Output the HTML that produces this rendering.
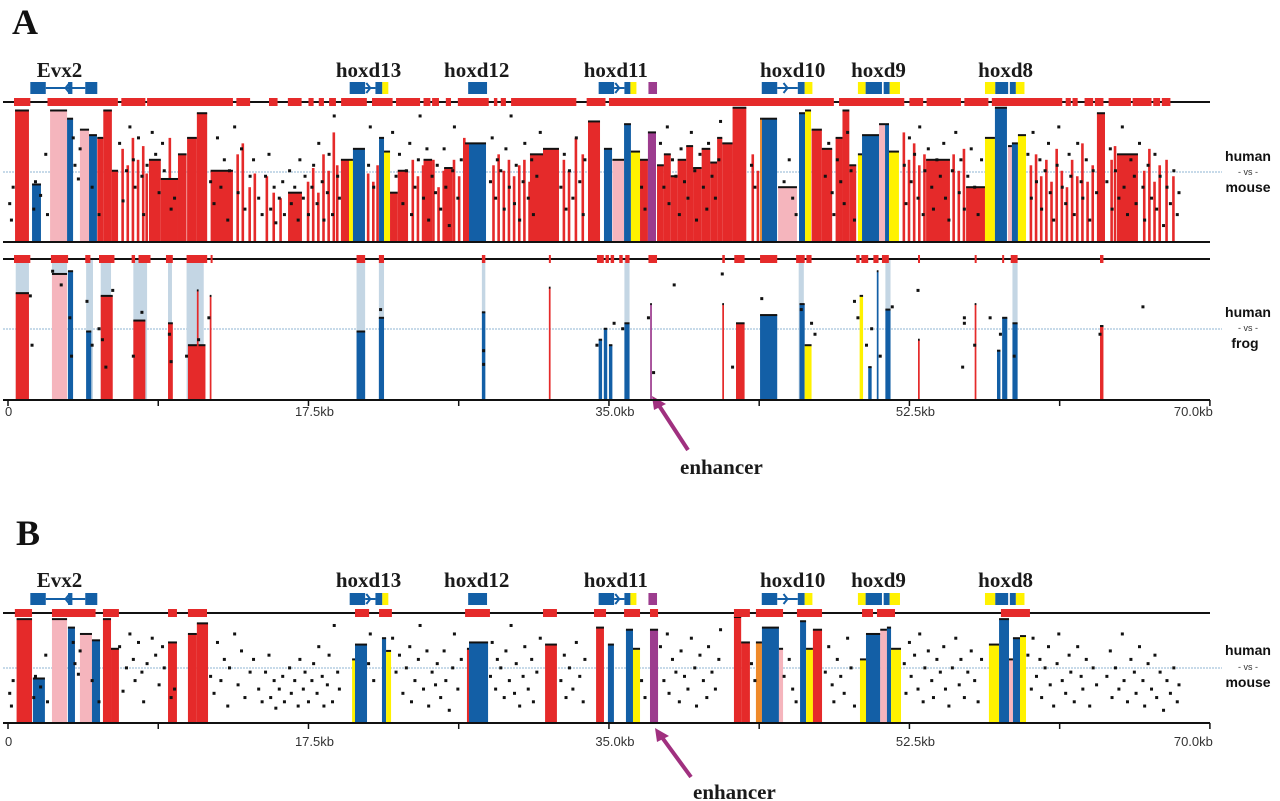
<!DOCTYPE html>
<html><head><meta charset="utf-8">
<style>
html,body{margin:0;padding:0;background:#fff;}
svg{display:block;}
.gl{font-family:"Liberation Serif",serif;font-weight:bold;font-size:21px;fill:#1a1a1a;}
.ax{font-family:"Liberation Sans",sans-serif;font-size:13px;fill:#333;}
.rl{font-family:"Liberation Sans",sans-serif;font-weight:bold;font-size:14px;fill:#111;}
.vs{font-family:"Liberation Sans",sans-serif;font-size:9px;fill:#333;}
</style></head>
<body>
<svg id="fig" width="1280" height="801" viewBox="0 0 1280 801" xmlns="http://www.w3.org/2000/svg">
<text x="12" y="34" font-family="Liberation Serif,serif" font-weight="bold" font-size="36" fill="#111">A</text>
<text x="16" y="545" font-family="Liberation Serif,serif" font-weight="bold" font-size="36" fill="#111">B</text>
<g>
<text class="rl" x="1248" y="161" text-anchor="middle">human</text>
<text class="vs" x="1248" y="175" text-anchor="middle">- vs -</text>
<text class="rl" x="1248" y="192" text-anchor="middle">mouse</text></g>
<g>
<text class="rl" x="1248" y="317" text-anchor="middle">human</text>
<text class="vs" x="1248" y="331" text-anchor="middle">- vs -</text>
<text class="rl" x="1245" y="348" text-anchor="middle">frog</text></g>
<g>
<text class="rl" x="1248" y="655" text-anchor="middle">human</text>
<text class="vs" x="1248" y="670" text-anchor="middle">- vs -</text>
<text class="rl" x="1248" y="687" text-anchor="middle">mouse</text></g>
<g>
<line x1="688" y1="450" x2="658" y2="404" stroke="#a0307f" stroke-width="4"/>
<polygon points="652,396 666,404 654,410" fill="#a0307f"/>
<text class="gl" x="680" y="474" font-size="22">enhancer</text></g>
<g>
<line x1="691" y1="777" x2="661" y2="736" stroke="#a0307f" stroke-width="4"/>
<polygon points="655,728 669,736 657,742" fill="#a0307f"/>
<text class="gl" x="693" y="799" font-size="22">enhancer</text></g>
</svg>
<script>
// ---- data (kb / percent identity) ----
const tickLabels = ["0","17.5kb","35.0kb","52.5kb","70.0kb"];
const tickKb = [0,8.75,17.5,26.25,35,43.75,52.5,61.25,70];
const geneNames = ["Evx2","hoxd13","hoxd12","hoxd11","hoxd10","hoxd9","hoxd8"];
const geneLabelKb = [3.0,21.0,27.3,35.4,45.7,50.7,58.1];
// gene boxes [startKb,endKb,colour]
const geneBoxes = [[1.3,2.2,"b"],[3.5,3.75,"b"],[4.5,5.2,"b"],[19.9,20.8,"b"],[21.4,21.8,"b"],[21.8,22.15,"y"],[26.8,27.9,"b"],[34.4,35.3,"b"],[35.9,36.25,"b"],[36.25,36.6,"y"],[37.3,37.8,"m"],[43.9,44.8,"b"],[46.0,46.4,"b"],[46.4,46.85,"y"],[49.5,49.95,"y"],[49.95,50.9,"b"],[51.0,51.35,"b"],[51.35,51.95,"y"],[56.9,57.5,"y"],[57.5,58.25,"b"],[58.35,58.7,"b"],[58.7,59.2,"y"]];
const geneIntrons = [[2.2,4.5,"left"],[20.8,21.4,"right"],[35.3,35.9,"right"],[44.8,46.0,"right"]];

const peaksAMouse = [[0.41,1.22,98,"r"],[1.40,1.92,71,"b"],[2.45,3.44,98,"p"],[3.44,3.79,95,"b"],[4.19,4.72,91,"p"],[4.72,5.18,89,"b"],[5.20,5.55,88,"r"],[5.55,6.05,98,"r"],[6.05,6.41,76,"r"],
[8.21,8.9,80,"r"],[8.9,9.9,73,"r"],[9.9,10.4,82,"r"],[10.43,11.0,88,"r"],[11.0,11.6,97,"r"],[11.8,13.1,76,"r"],[16.31,17.12,68,"r"],[19.39,19.86,80,"r"],[19.86,20.09,80,"y"],[20.09,20.79,84,"b"],
[21.61,21.90,88,"b"],[21.90,22.25,83,"y"],[22.25,22.7,68,"r"],[22.7,23.3,76,"r"],[24.2,24.7,80,"r"],[25.4,25.9,77,"r"],[26.62,26.85,86,"r"],[26.85,27.84,86,"b"],[30.4,31.2,82,"r"],[31.16,32.09,84,"r"],[33.78,34.48,94,"r"],[34.71,35.18,84,"b"],[35.2,35.88,80,"p"],
[35.88,36.28,93,"b"],[36.28,36.81,83,"y"],[36.81,37.27,80,"r"],[37.27,37.74,90,"m"],[37.8,38.2,78,"r"],[38.2,38.6,82,"r"],[38.6,39.0,74,"r"],[39.0,39.5,80,"r"],[39.5,39.9,85,"r"],[39.9,40.4,77,"r"],
[40.4,40.9,84,"r"],[40.9,41.3,79,"r"],[41.3,41.6,88,"r"],[41.6,42.2,86,"r"],[42.2,43.0,99,"r"],[43.80,43.91,95,"o"],[43.91,44.79,95,"b"],[44.85,45.95,70,"p"],[46.07,46.42,97,"b"],[46.42,46.77,98,"y"],
[46.8,47.4,91,"r"],[47.4,48.0,84,"r"],[48.2,48.6,88,"r"],[48.6,49.0,98,"r"],[49.0,49.4,78,"r"],[49.50,49.74,82,"y"],[49.74,50.73,89,"b"],[50.73,51.08,93,"p"],[51.08,51.31,93,"b"],[51.31,51.89,83,"y"],
[53.47,54.86,80,"r"],[55.80,56.90,70,"r"],[56.90,57.48,88,"y"],[57.48,58.18,99,"b"],[58.24,58.47,85,"p"],[58.47,58.82,86,"b"],[58.82,59.29,89,"y"],[63.42,63.89,97,"r"],[64.59,65.81,82,"r"]];
// thin red lines [kb,pct]
const linesAMouse = [[6.6,84],[6.9,78],[7.2,88],[7.5,80],[7.8,85],[8.0,75],[9.35,88],[13.3,82],[13.6,86],[14.0,70],[14.3,75],[15.0,74],[15.4,68],[15.8,66],[17.4,72],[17.7,77],[18.0,68],[18.3,82],[18.6,76],[18.9,90],[19.1,78],
[20.9,75],[21.2,72],[21.45,78],[23.5,80],[23.8,74],[24.1,78],[24.4,72],[24.7,80],[25.0,70],[25.3,76],[25.6,68],[25.9,80],[26.2,74],[26.5,88],[28.2,78],[28.5,82],[28.8,76],[29.1,80],[29.4,74],[29.7,78],[30.0,80],[30.3,72],[30.6,76],[30.9,80],
[32.3,80],[32.6,76],[33.0,88],[33.4,82],[43.3,82],[43.6,76],[52.1,90],[52.4,80],[52.7,86],[53.0,78],[53.3,82],[55.0,82],[55.3,76],[55.6,84],[59.5,78],[59.8,82],[60.1,74],[60.4,80],[60.7,72],[61.0,84],[61.3,76],[61.6,70],[61.9,80],[62.2,74],[62.5,86],[62.8,72],[63.1,78],[64.2,80],[64.4,85],[66.1,76],[66.4,84],[66.7,72],[67.0,78],[67.4,80],[67.8,74]];
const barsAMouse = [[0.35,1.3],[2.3,6.4],[6.6,8.0],[8.1,13.1],[13.3,14.1],[15.2,15.7],[16.3,17.1],[17.5,17.8],[18.1,18.4],[18.7,19.1],[19.4,20.9],[21.2,22.4],[22.6,24.0],[24.2,24.6],[24.7,25.1],[25.5,25.8],[26.2,28.0],[28.3,28.5],[28.7,29.0],[29.3,33.1],[33.7,34.8],[35.0,48.1],[48.4,52.2],[52.5,53.3],[53.5,55.5],[55.7,57.1],[57.3,61.4],[61.6,61.9],[62.0,62.3],[62.7,63.2],[63.3,63.8],[64.1,65.4],[65.5,66.6],[66.7,67.1],[67.2,67.7]];

const peaksAFrog = [[0.45,1.22,89,"r"],[2.56,3.44,96,"p"],[3.49,3.79,97,"b"],[4.55,4.85,75,"b"],[5.4,6.1,88,"r"],[7.3,8.0,79,"r"],[9.32,9.6,78,"r"],[10.48,11.5,70,"r"],[11.0,11.1,90,"r"],[11.75,11.85,88,"r"],[20.3,20.8,75,"b"],[21.6,21.9,80,"b"],[27.6,27.8,82,"b"],[31.5,31.6,91,"r"],
[34.4,34.6,72,"b"],[34.7,34.9,76,"b"],[35.0,35.2,70,"b"],[35.9,36.2,78,"b"],[37.4,37.5,85,"m"],[41.6,41.7,85,"r"],[42.4,42.9,78,"r"],[43.8,44.8,81,"b"],[46.1,46.4,85,"b"],[46.4,46.8,70,"y"],[49.6,49.8,88,"y"],[50.1,50.3,62,"b"],[50.6,50.7,97,"b"],[51.1,51.4,83,"b"],[53.0,53.1,72,"r"],[56.3,56.4,85,"r"],[57.6,57.8,68,"b"],[57.9,58.2,80,"b"],[58.5,58.8,78,"b"],[63.6,63.8,77,"r"]];
const shadeAFrog = [[0.45,1.22],[2.56,3.44],[4.55,4.95],[5.4,6.0],[7.3,8.1],[9.32,9.55],[10.4,11.4],[20.3,20.8],[21.6,21.9],[27.6,27.8],[35.9,36.2],[46.05,46.35],[51.1,51.4],[58.5,58.8]];
const barsAFrog = [[0.35,1.3],[2.5,3.5],[4.5,4.8],[5.3,6.2],[7.2,7.4],[7.6,8.3],[9.2,9.6],[10.4,11.6],[11.8,11.9],[20.3,20.8],[21.6,21.9],[27.6,27.8],[31.5,31.6],[34.3,34.7],[34.8,35.0],[35.1,35.3],[35.6,35.8],[35.95,36.2],[37.3,37.8],[41.6,41.75],[42.3,42.9],[43.8,44.8],[45.9,46.4],[46.5,46.8],[49.4,49.6],[49.7,50.1],[50.4,50.7],[50.9,51.3],[53.0,53.1],[56.3,56.4],[57.9,58.0],[58.4,58.8],[63.6,63.8]];
const dotsAFrog = [[1.3,88],[1.4,70],[2.6,97],[3.1,92],[3.6,80],[3.7,66],[4.6,86],[4.9,70],[5.3,76],[5.5,72],[5.7,62],[6.1,90],[7.3,66],[7.8,82],[9.4,74],[9.5,64],[10.4,66],[11.1,72],[11.7,80],[21.7,83],[27.7,63],[27.7,68],[34.3,70],[35.3,78],[35.8,76],[37.3,80],[37.6,60],[41.6,96],[42.2,62],[43.9,87],[46.2,83],[46.8,78],[47.0,74],[49.3,86],[49.5,80],[50.0,70],[50.3,76],[50.8,66],[51.5,84],[53.0,90],[55.7,78],[55.7,80],[56.3,70],[57.2,80],[57.8,74],[58.6,66],[63.6,74],[66.1,84],[38.8,92],[55.6,62]];

const peaksB = [[0.5,1.4,99,"r"],[1.45,2.15,71,"b"],[2.56,3.44,99,"p"],[3.49,3.90,95,"b"],[4.19,4.89,92,"p"],[4.89,5.36,89,"b"],[5.53,6.0,99,"r"],[6.0,6.46,85,"r"],[9.32,9.84,88,"r"],[10.48,11.0,92,"r"],[11.0,11.65,97,"r"],
[20.04,20.21,80,"y"],[20.21,20.91,87,"b"],[21.78,22.02,90,"b"],[22.02,22.31,84,"y"],[26.73,26.85,85,"r"],[26.85,27.96,88,"b"],[31.28,31.97,87,"r"],[34.25,34.71,95,"r"],[34.94,35.29,87,"b"],[35.99,36.40,94,"b"],[36.40,36.81,85,"y"],[37.39,37.86,94,"m"],
[42.28,42.7,100,"r"],[42.7,43.21,88,"r"],[43.56,43.91,88,"o"],[43.91,44.90,95,"b"],[44.90,45.14,85,"p"],[46.13,46.48,98,"b"],[46.48,46.88,85,"y"],[46.88,47.41,94,"r"],[49.62,49.97,80,"y"],[49.97,50.8,92,"b"],[50.8,51.19,94,"p"],[51.19,51.43,95,"b"],[51.43,52.01,85,"y"],
[57.13,57.72,87,"y"],[57.72,58.30,99,"b"],[58.30,58.53,80,"p"],[58.53,58.94,90,"b"],[58.94,59.29,91,"y"]];
const barsB = [[0.4,1.4],[2.56,5.1],[5.53,6.46],[9.32,9.84],[10.48,11.59],[20.21,21.03],[21.61,22.36],[26.62,28.07],[31.16,31.97],[34.13,34.83],[35.88,36.81],[37.39,37.86],[42.28,43.21],[43.56,45.14],[45.95,47.41],[49.74,50.38],[50.61,51.66],[57.83,59.52]];
// human-mouse scatter points (same data in both mouse tracks)
const dotsMouse = [[0.1,64],[0.2,58],[0.3,70],[1.5,62],[1.6,72],[1.9,67],[2.2,82],[2.3,60],[3.8,88],[3.9,78],[4.1,73],[4.2,84],[4.9,70],[5.3,60],[6.5,86],[6.7,65],[6.9,76],[7.1,92],[7.3,80],[7.4,70],[7.6,88],[7.8,74],[7.9,60],[8.1,78],[8.4,90],[8.6,82],[8.8,68],[9.0,86],[9.1,76],[9.5,62],[9.7,66],
[11.8,72],[12.0,64],[12.2,88],[12.4,70],[12.6,80],[12.8,58],[12.9,76],[13.2,92],[13.4,68],[13.6,84],[13.8,62],[14.1,74],[14.3,80],[14.6,66],[14.8,60],[15.0,74],[15.2,82],[15.3,62],[15.5,70],[15.6,57],[15.8,66],[16.0,72],[16.1,60],[16.4,76],[16.5,64],[16.7,70],[16.9,58],[17.0,80],[17.2,66],[17.3,74],[17.5,60],[17.7,70],[17.8,78],[18.0,64],[18.1,86],[18.3,72],[18.4,58],[18.6,68],[18.7,82],[18.9,60],[19.0,96],[19.2,74],[19.3,66],
[21.0,78],[21.1,92],[21.3,70],[22.4,90],[22.6,74],[22.8,82],[23.0,64],[23.2,76],[23.4,86],[23.5,60],[23.7,70],[23.9,80],[24.0,96],[24.2,66],[24.4,84],[24.5,58],[24.7,74],[24.9,68],[25.0,78],[25.2,62],[25.4,84],[25.5,70],[25.7,56],[25.9,76],[26.0,92],[26.2,66],[26.4,80],
[28.1,72],[28.2,88],[28.4,66],[28.5,80],[28.7,76],[28.9,62],[29.0,84],[29.2,70],[29.3,96],[29.5,64],[29.6,78],[29.8,58],[30.0,72],[30.1,86],[30.3,66],[30.5,80],[30.6,60],[30.8,74],[31.0,90],[32.2,70],[32.4,82],[32.5,62],[32.7,76],[32.9,66],[33.1,88],[33.3,72],[33.5,60],[33.6,80],
[36.9,70],[37.1,62],[38.0,86],[38.2,70],[38.4,92],[38.5,64],[38.7,80],[38.9,74],[39.1,60],[39.2,84],[39.4,72],[39.6,66],[39.8,90],[40.0,76],[40.1,58],[40.3,82],[40.5,70],[40.7,62],[40.8,86],[41.0,74],[41.2,66],[41.4,80],[41.5,94],
[43.3,78],[43.5,70],[45.2,72],[45.5,80],[45.7,66],[45.9,60],[47.6,74],[47.8,86],[48.0,68],[48.1,60],[48.3,80],[48.5,72],[48.7,64],[48.9,90],[49.1,76],[49.3,58],
[52.2,78],[52.3,64],[52.5,88],[52.6,72],[52.8,82],[53.0,66],[53.1,92],[53.3,60],[53.4,76],[53.6,84],[53.8,70],[53.9,62],[54.1,80],[54.3,74],[54.5,86],[54.6,66],[54.8,58],[55.0,76],[55.2,90],[55.4,68],[55.5,80],[55.7,62],[55.9,74],[56.1,84],[56.3,70],[56.5,60],[56.7,80],
[59.4,82],[59.6,66],[59.7,90],[59.9,72],[60.1,80],[60.2,62],[60.4,76],[60.6,86],[60.7,68],[60.9,58],[61.1,78],[61.2,92],[61.4,70],[61.6,64],[61.8,82],[61.9,74],[62.1,60],[62.3,86],[62.5,72],[62.6,66],[62.8,80],[63.0,58],[63.2,76],[63.4,68],
[64.0,72],[64.2,84],[64.3,62],[64.5,76],[64.7,66],[64.9,92],[65.0,70],[65.2,60],[65.4,80],[65.6,74],[65.7,64],[65.9,86],[66.1,70],[66.2,58],[66.4,78],[66.6,66],[66.8,82],[66.9,62],[67.1,74],[67.3,56],[67.5,70],[67.7,64],[67.9,76],[68.1,60],[68.2,68]];

// ---- scales / layout ----
const X0 = 8, KBPX = 17.17;
function xs(kb){ return X0 + kb*KBPX; }
function ysFactory(base, top){ return function(p){ return base - (p-50)/50*(base-top); }; }
const COLORS = {r:"#e52a2a",b:"#135fa6",p:"#f5b5bd",y:"#fff200",m:"#9c3c8e",o:"#ef8a2a",l:"#c4d6e4"};
const NS = "http://www.w3.org/2000/svg";
const svg = document.getElementById('fig');
function mk(tag, attrs, parent){
  const e = document.createElementNS(NS, tag);
  for (const k in attrs) e.setAttribute(k, attrs[k]);
  (parent||svg).appendChild(e); return e;
}

function track(id, lineY, base, top, midY, peaks, lines, dots, bars, shade){
  const ys = ysFactory(base, top);
  const g = mk('g', {});
  
  
  const mid = mk('line', {x1:3, x2:1222, y1:midY, y2:midY, stroke:"#8fb6d3", 'stroke-width':1, 'stroke-dasharray':"2,1"}, g);
  
  
  if (shade) shade.forEach(s=>{
    const r = mk('rect', {x:xs(s[0]), y:lineY, width:Math.max(1,xs(s[1])-xs(s[0])), height:base-lineY, fill:COLORS.l}, g);
    
    
  });
  lines.forEach(l=>{
    const r = mk('rect', {x:xs(l[0]), y:ys(l[1]), width:2.6, height:base-ys(l[1]), fill:COLORS.r}, g);
    
    
  });
  peaks.forEach(p=>{
    const r = mk('rect', {x:xs(p[0]), y:ys(p[2]), width:Math.max(1.5,xs(p[1])-xs(p[0])), height:base-ys(p[2]), fill:COLORS[p[3]]}, g);
    
    
    const cap = mk('rect', {x:xs(p[0]), y:ys(p[2])-1, width:Math.max(1.5,xs(p[1])-xs(p[0])), height:2, fill:"#111"}, g);
    
    
  });
  dots.forEach(d=>{
    const r = mk('rect', {x:xs(d[0])-1.5, y:ys(d[1])-1.5, width:3, height:3, fill:"#111"}, g);
    
    
  });
  const tl = mk('line', {x1:3, x2:1210, y1:lineY, y2:lineY, stroke:"#111", 'stroke-width':2}, g);
  
  
  const bl = mk('line', {x1:3, x2:1210, y1:base, y2:base, stroke:"#111", 'stroke-width':2}, g);
  
  
  bars.forEach(b=>{
    const r = mk('rect', {x:xs(b[0]), y:lineY-4, width:Math.max(2,xs(b[1])-xs(b[0])), height:8, fill:COLORS.r}, g);
    
    
  });
}

function axis(id, base, labY){
  const g = mk('g', {});
  
  
  tickKb.forEach((k,i)=>{
    const t = mk('line', {x1:xs(k), x2:xs(k), y1:base, y2:base+6, stroke:"#111", 'stroke-width':1.5}, g);
    
    
  });
  tickLabels.forEach((s,i)=>{
    const k = i*17.5;
    let anchor = 'middle', x = xs(k)+6;
    if (i===0){ anchor='start'; x = xs(k)-3; }
    if (i===tickLabels.length-1){ anchor='end'; x = xs(k)+3; }
    const t = mk('text', {x:x, y:labY, 'text-anchor':anchor, class:'ax'}, g);
    t.textContent = s;
    
    
  });
}

function genes(id, labelY, boxY){
  const g = mk('g', {});
  
  
  geneIntrons.forEach(n=>{
    const l = mk('line', {x1:xs(n[0]), x2:xs(n[1]), y1:boxY+6, y2:boxY+6, stroke:COLORS.b, 'stroke-width':2}, g);
    
    
    const mx = (xs(n[0])+xs(n[1]))/2, d = n[2]==='left' ? -1 : 1;
    const a = mk('polyline', {points:(mx-4*d)+','+(boxY+1)+' '+mx+','+(boxY+6)+' '+(mx-4*d)+','+(boxY+11), fill:'none', stroke:COLORS.b, 'stroke-width':2}, g);
    
    
  });
  geneBoxes.forEach(b=>{
    const r = mk('rect', {x:xs(b[0]), y:boxY, width:xs(b[1])-xs(b[0]), height:12, fill:COLORS[b[2]]}, g);
    
    
  });
  geneNames.forEach((n,i)=>{
    const t = mk('text', {x:xs(geneLabelKb[i]), y:labelY, 'text-anchor':'middle', class:'gl'}, g);
    t.textContent = n;
    
    
  });
}

genes('genes-a', 77, 82);
track('a-mouse', 102, 242, 105, 172, peaksAMouse, linesAMouse, dotsMouse, barsAMouse, null);
track('a-frog', 259, 400, 263, 329, peaksAFrog, [], dotsAFrog, barsAFrog, shadeAFrog);
axis('axis-a', 400, 416);
genes('genes-b', 587, 593);
track('b-mouse', 613, 723, 617, 668, peaksB, [], dotsMouse, barsB, null);
axis('axis-b', 723, 746);
</script>
</body></html>
